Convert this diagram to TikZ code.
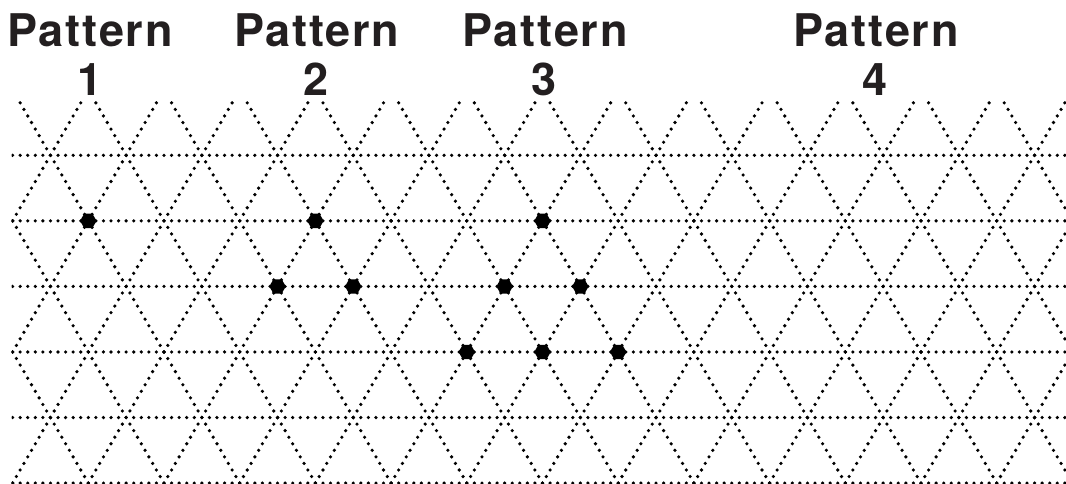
\documentclass[tikz,border=0pt]{standalone}
\usepackage{fontspec}
\setmainfont{TeX Gyre Heros}
\newfontfamily\ttlfont{TeX Gyre Heros}[LetterSpace=4]
\usetikzlibrary{shapes.geometric}
\definecolor{inkdark}{HTML}{231F20}
\begin{document}
\begin{tikzpicture}[x=1pt,y=-1pt,
  dotline/.style={line width=3.6pt, line cap=round, dash pattern=on 0pt off 7.57pt},
  hexmark/.style={regular polygon, regular polygon sides=6, fill=black, minimum size=16.5pt, inner sep=0pt},
  ttl/.style={font=\ttlfont\fontsize{45}{48}\selectfont\bfseries, anchor=base, inner sep=0pt, text=inkdark},
  num/.style={font=\fontsize{45}{48}\selectfont\bfseries, anchor=base, inner sep=0pt, text=inkdark}]
\useasboundingbox (0,0) rectangle (1066,483);
\def\gs{75.7}
\def\gh{65.56}
\begin{scope}
  \clip (11.5,99) rectangle (1066,483);
  % horizontal dotted lines
  \foreach \j in {0,...,5}{
    \pgfmathsetmacro\yy{155.3+\gh*\j}
    \pgfmathsetmacro\xo{50.45+37.85*mod(\j,2)-\gs}
    \draw[dotline] (\xo,\yy) -- ++(15*\gs,0);
  }
  % diagonal dotted lines
  \foreach \k in {-5,...,18}{
    \pgfmathsetmacro\xs{88.3+\gs*\k}
    \draw[dotline] (\xs,89.74) -- ++(7*37.85,7*\gh);
    \draw[dotline] (\xs,89.74) -- ++(-7*37.85,7*\gh);
  }
\end{scope}
% pattern markers
\node[hexmark] (a1) at (88.3,220.86) {};
\node[hexmark] (b1) at (315.4,220.86) {};
\node[hexmark] (b2) at (277.55,286.42) {};
\node[hexmark] (b3) at (353.25,286.42) {};
\node[hexmark] (c1) at (542.5,220.86) {};
\node[hexmark] (c2) at (504.65,286.42) {};
\node[hexmark] (c3) at (580.35,286.42) {};
\node[hexmark] (c4) at (466.8,351.98) {};
\node[hexmark] (c5) at (542.5,351.98) {};
\node[hexmark] (c6) at (618.2,351.98) {};
% titles
\node[ttl] (t1) at (90,46.7) {Pattern};
\node[num] (n1) at (90,95) {1};
\node[ttl] (t2) at (316.7,46.7) {Pattern};
\node[num] (n2) at (316.5,95) {2};
\node[ttl] (t3) at (545,46.7) {Pattern};
\node[num] (n3) at (544,95) {3};
\node[ttl] (t4) at (876,46.7) {Pattern};
\node[num] (n4) at (875.5,95) {4};
\end{tikzpicture}
\end{document}
